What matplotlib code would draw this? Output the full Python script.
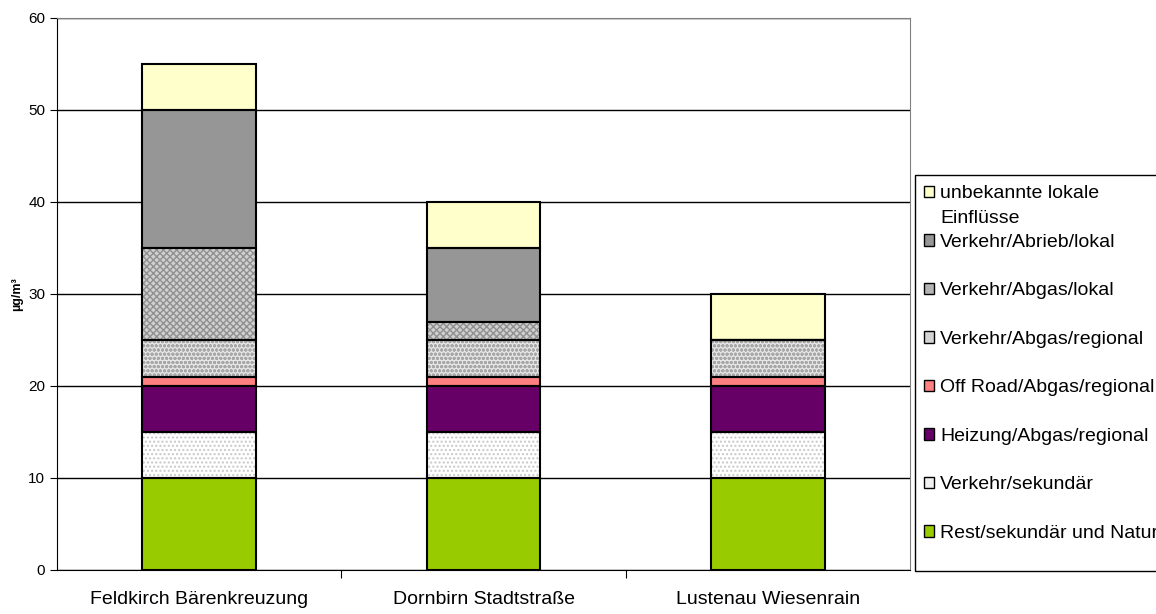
import numpy as np
import matplotlib
matplotlib.use("Agg")
import matplotlib.pyplot as plt

plt.rcParams['font.family'] = ['Liberation Sans', 'DejaVu Sans']

# Messstellen und Anteile der Quellen (µg/m³)
stations = ["Feldkirch Bärenkreuzung", "Dornbirn Stadtstraße", "Lustenau Wiesenrain"]
sources = ["Rest/sekundär und Natur", "Verkehr/sekundär", "Heizung/Abgas/regional",
           "Off Road/Abgas/regional", "Verkehr/Abgas/regional", "Verkehr/Abgas/lokal",
           "Verkehr/Abrieb/lokal", "unbekannte lokale"]
source_note = "Einflüsse"  # zweite Zeile des letzten Eintrags
rest_natur = [10, 10, 10]
verkehr_sek = [5, 5, 5]
heizung = [5, 5, 5]
off_road = [1, 1, 1]
abgas_regional = [4, 4, 4]
abgas_lokal = [10, 2, 0]
abrieb_lokal = [15, 8, 0]
unbekannt = [5, 5, 5]
values = [rest_natur, verkehr_sek, heizung, off_road, abgas_regional,
          abgas_lokal, abrieb_lokal, unbekannt]

# Füllfarbe, Schraffur, Schraffurfarbe, Farbe im Legendenkästchen
styles = [
    ("#99cc00", None, None, "#99cc00"),
    ("#ffffff", "....", "#c8c8c8", "#f0f0f0"),
    ("#660066", None, None, "#660066"),
    ("#ff8080", None, None, "#ff8080"),
    ("#e6e6e6", "oooo", "#a8a8a8", "#d4d4d4"),
    ("#d0d0d0", "xxxxx", "#909090", "#b4b4b4"),
    ("#969696", None, None, "#969696"),
    ("#ffffcc", None, None, "#ffffcc"),
]

fig = plt.figure(figsize=(11.56, 6.14), dpi=100)
ax = fig.add_axes([0.0493, 0.0717, 0.738, 0.899])

x = np.arange(len(stations))
width = 0.4
bottom = np.zeros(len(stations))
handles = []
for vals, (fc, hatch, hc, lc), name in zip(values, styles, sources):
    vals = np.array(vals, dtype=float)
    if hatch:
        ax.bar(x, vals, width, bottom=bottom, color=fc, hatch=hatch,
               edgecolor=hc, linewidth=0, zorder=3)
    else:
        ax.bar(x, vals, width, bottom=bottom, color=fc, linewidth=0, zorder=3)
    # schwarzer Rahmen um jedes Segment
    ax.bar(x, vals, width, bottom=bottom, fill=False, edgecolor="black",
           linewidth=1.5, zorder=4)
    handles.append(plt.Rectangle((0, 0), 1, 1, facecolor=lc,
                                 edgecolor="black", linewidth=1))
    bottom += vals

ax.set_ylim(0, 60)
ax.set_xlim(-0.5, 2.5)
ax.set_yticks(np.arange(0, 61, 10))
ax.tick_params(axis='y', labelsize=11, length=5, direction='out')
ax.yaxis.grid(True, color="black", linewidth=1, zorder=0)
ax.set_axisbelow(True)

ax.set_xticks([0.5, 1.5])
ax.set_xticklabels([])
ax.set_xticks(x, minor=True)
ax.set_xticklabels(stations, minor=True, fontsize=14)
ax.tick_params(axis='x', which='major', length=6)
ax.tick_params(axis='x', which='minor', length=0, pad=15)

for side in ["top", "right"]:
    ax.spines[side].set_color("#808080")
for side in ["left", "bottom"]:
    ax.spines[side].set_color("black")

ax.set_ylabel("µg/m³", fontsize=9, fontweight="bold", labelpad=4)

leg = fig.legend(handles[::-1], sources[::-1], loc="upper left",
                 bbox_to_anchor=(0.7915, 0.712), fontsize=14,
                 frameon=False,
                 handlelength=0.55, handleheight=0.55, handletextpad=0.3,
                 labelspacing=1.62, borderpad=0.44, borderaxespad=0)

# zweite Zeile unter "unbekannte lokale"
fig.canvas.draw()
bb = leg.get_texts()[0].get_window_extent().transformed(fig.transFigure.inverted())
fig.text(bb.x0, bb.y0 - 0.012, source_note, ha="left", va="top", fontsize=14)

# Rahmen der Legende
fig.patches.append(plt.Rectangle((0.7915, 1 - 571 / 614), 0.25, 396 / 614,
                                 transform=fig.transFigure, fill=False,
                                 edgecolor="black", linewidth=1))

fig.savefig("out.png", dpi=100)
